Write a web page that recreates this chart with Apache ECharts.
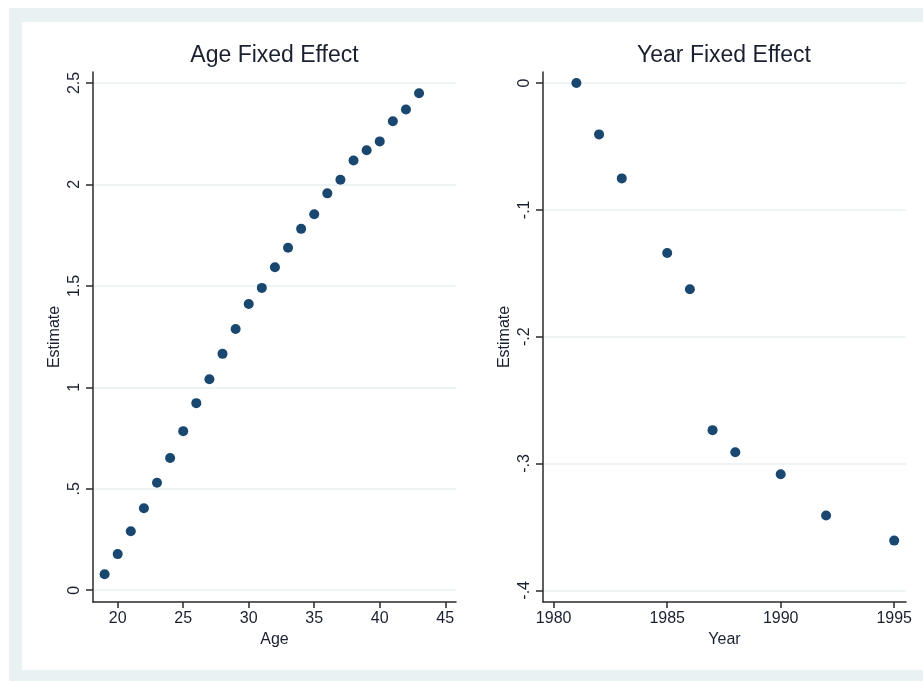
<!DOCTYPE html>
<html>
<head>
<meta charset="utf-8">
<script src="https://cdn.jsdelivr.net/npm/echarts@6/dist/echarts.min.js"></script>
<style>
  html, body { margin: 0; padding: 0; background: #ffffff; }
  #chart { width: 923px; height: 681px; }
</style>
</head>
<body>
<div id="chart"></div>
<script>
// ---- Data ----
const ages = [19, 20, 21, 22, 23, 24, 25, 26, 27, 28, 29, 30, 31, 32, 33, 34, 35, 36, 37, 38, 39, 40, 41, 42, 43];
const ageEstimates = [0.079, 0.178, 0.291, 0.404, 0.530, 0.652, 0.784, 0.922, 1.040, 1.165, 1.287, 1.411,
  1.490, 1.592, 1.688, 1.781, 1.853, 1.956, 2.023, 2.118, 2.168, 2.212, 2.311, 2.369, 2.449];

const years = [1981, 1982, 1983, 1985, 1986, 1987, 1988, 1990, 1992, 1995];
const yearEstimates = [0.0, -0.0405, -0.0752, -0.134, -0.1626, -0.2737, -0.2911, -0.3085, -0.341, -0.3608];

const ageXTicks = [20, 25, 30, 35, 40, 45];
const ageXTickLabels = ['20', '25', '30', '35', '40', '45'];
const ageYTicks = [0, 0.5, 1, 1.5, 2, 2.5];
const ageYTickLabels = ['0', '.5', '1', '1.5', '2', '2.5'];
const yearXTicks = [1980, 1985, 1990, 1995];
const yearXTickLabels = ['1980', '1985', '1990', '1995'];
const yearYTicks = [0, -0.1, -0.2, -0.3, -0.4];
const yearYTickLabels = ['0', '-.1', '-.2', '-.3', '-.4'];

const titles = ['Age Fixed Effect', 'Year Fixed Effect'];

// ---- Styles ----
const FONT = 'Liberation Sans, Arial, Helvetica, sans-serif';
const TEXT = '#1a2030';
const MARK = '#1a476f';
const GRIDC = '#e8eff1';
const AXC = '#2a2a2a';

function lookup(ticks, labels) {
  return function (v) {
    for (let i = 0; i < ticks.length; i++) {
      if (Math.abs(ticks[i] - v) < 1e-9) return labels[i];
    }
    return '';
  };
}

function xAxisCfg(idx, name, min, max, ticks, labels) {
  return {
    type: 'value', gridIndex: idx, min: min, max: max,
    name: name, nameLocation: 'middle', nameGap: 27,
    nameTextStyle: { fontFamily: FONT, fontSize: 16, color: TEXT },
    axisLine: { show: true, onZero: false, lineStyle: { color: AXC, width: 1.5 } },
    axisTick: { show: true, length: 6, customValues: ticks, lineStyle: { color: AXC, width: 1.5 } },
    axisLabel: { customValues: ticks, margin: 9, fontFamily: FONT, fontSize: 16, color: TEXT,
      formatter: lookup(ticks, labels) },
    splitLine: { show: false }
  };
}

function yAxisCfg(idx, min, max, ticks, labels) {
  return {
    type: 'value', gridIndex: idx, min: min, max: max,
    name: 'Estimate', nameLocation: 'middle', nameGap: 30, nameRotate: 90,
    nameTextStyle: { fontFamily: FONT, fontSize: 16, color: TEXT },
    axisLine: { show: true, onZero: false, lineStyle: { color: AXC, width: 1.5 } },
    axisTick: { show: true, length: 7, customValues: ticks, lineStyle: { color: AXC, width: 1.5 } },
    axisLabel: { customValues: ticks, rotate: 90, margin: 10, fontFamily: FONT, fontSize: 16, color: TEXT,
      formatter: lookup(ticks, labels) },
    splitLine: { show: true, lineStyle: { color: GRIDC, width: 1.5 } }
  };
}

const chart = echarts.init(document.getElementById('chart'), null, { renderer: 'canvas' });

const option = {
  backgroundColor: '#ffffff',
  animation: false,
  graphic: [
    { type: 'rect', z: -10, silent: true, shape: { x: 9, y: 8, width: 914, height: 673 }, style: { fill: '#e9f1f3' } },
    { type: 'rect', z: -9, silent: true, shape: { x: 22, y: 22, width: 901, height: 648 }, style: { fill: '#ffffff' } },
    { type: 'text', x: 274.5, y: 56, style: { text: titles[0], fontFamily: FONT, fontSize: 23, fill: TEXT,
      textAlign: 'center', textVerticalAlign: 'middle' } },
    { type: 'text', x: 724, y: 56, style: { text: titles[1], fontFamily: FONT, fontSize: 23, fill: TEXT,
      textAlign: 'center', textVerticalAlign: 'middle' } }
  ],
  grid: [
    { left: 93, top: 72, width: 363, height: 530 },
    { left: 543, top: 72, width: 363, height: 530 }
  ],
  xAxis: [
    xAxisCfg(0, 'Age', 18.115, 45.82, ageXTicks, ageXTickLabels),
    xAxisCfg(1, 'Year', 1979.53, 1995.52, yearXTicks, yearXTickLabels)
  ],
  yAxis: [
    yAxisCfg(0, -0.058, 2.554, ageYTicks, ageYTickLabels),
    yAxisCfg(1, -0.4092, 0.0087, yearYTicks, yearYTickLabels)
  ],
  series: [
    { type: 'scatter', xAxisIndex: 0, yAxisIndex: 0, symbolSize: 10,
      itemStyle: { color: MARK, opacity: 1 },
      data: ages.map((a, i) => [a, ageEstimates[i]]) },
    { type: 'scatter', xAxisIndex: 1, yAxisIndex: 1, symbolSize: 10,
      itemStyle: { color: MARK, opacity: 1 },
      data: years.map((y, i) => [y, yearEstimates[i]]) }
  ]
};

chart.setOption(option);
</script>
</body>
</html>
